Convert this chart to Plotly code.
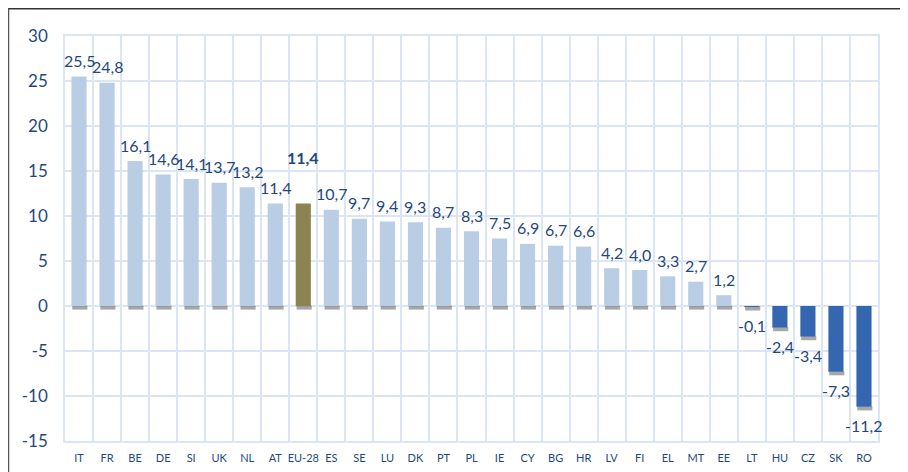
import plotly.graph_objects as go

countries = ["IT", "FR", "BE", "DE", "SI", "UK", "NL", "AT", "EU-28", "ES", "SE", "LU", "DK",
             "PT", "PL", "IE", "CY", "BG", "HR", "LV", "FI", "EL", "MT", "EE", "LT", "HU",
             "CZ", "SK", "RO"]
values = [25.5, 24.8, 16.1, 14.6, 14.1, 13.7, 13.2, 11.4, 11.4, 10.7, 9.7, 9.4, 9.3,
          8.7, 8.3, 7.5, 6.9, 6.7, 6.6, 4.2, 4.0, 3.3, 2.7, 1.2, -0.1, -2.4,
          -3.4, -7.3, -11.2]
highlight = "EU-28"
y_ticks = [-15, -10, -5, 0, 5, 10, 15, 20, 25, 30]
y_tick_labels = ["-15", "-10", "-5", "0", "5", "10", "15", "20", "25", "30"]

LIGHT = "#b9cde4"
OLIVE = "#8c8450"
DARK = "#3567b0"
TXT = "#1f497d"
GRID = "#dbe5f3"
FONT = "Lato"
BW = 0.54

def fmt(v):
    return f"{v:.1f}".replace(".", ",")

colors = []
for c, v in zip(countries, values):
    if c == highlight:
        colors.append(OLIVE)
    elif v < 0:
        colors.append(DARK)
    else:
        colors.append(LIGHT)

fig = go.Figure()
# soft drop shadow under each bar's lower end
fig.add_trace(go.Bar(
    x=countries, y=[-0.45] * len(values), base=[min(v, 0) + 0.05 for v in values],
    marker=dict(color="rgba(60,60,60,0.45)", line=dict(width=0)),
    width=BW, offset=-BW / 2 + 0.03, hoverinfo="skip",
))
fig.add_trace(go.Bar(
    x=countries, y=values,
    marker=dict(color=colors, line=dict(width=0)),
    width=BW, offset=-BW / 2,
    hoverinfo="x+y",
))

for c, v in zip(countries, values):
    if c == highlight:
        fig.add_annotation(x=c, y=v, text="<b>" + fmt(v) + "</b>", showarrow=False,
                           yanchor="middle", yshift=46, font=dict(family=FONT, size=16, color=TXT))
    elif v >= 0:
        fig.add_annotation(x=c, y=v, text=fmt(v), showarrow=False,
                           yanchor="middle", yshift=16, font=dict(family=FONT, size=16, color=TXT))
    else:
        fig.add_annotation(x=c, y=v, text=fmt(v), showarrow=False,
                           yanchor="middle", yshift=-19, font=dict(family=FONT, size=16, color=TXT))

fig.update_layout(
    width=900, height=464,
    margin=dict(l=57, r=30, t=28, b=31),
    paper_bgcolor="white", plot_bgcolor="white",
    showlegend=False, barmode="overlay",
    xaxis=dict(type="category", tickson="boundaries", showgrid=True, gridcolor=GRID, gridwidth=1.5,
               showline=True, linecolor=GRID, linewidth=1.5, mirror=True, ticks="",
               tickangle=0, automargin=False,
               tickfont=dict(family=FONT, size=11, color=TXT), ticklabelstandoff=6,
               range=[-0.5, len(countries) - 0.5]),
    yaxis=dict(range=[-15, 30], tickvals=y_ticks, ticktext=y_tick_labels, showgrid=True,
               gridcolor=GRID, gridwidth=1.5, automargin=False,
               zeroline=False, showline=True, linecolor=GRID, linewidth=1.5, mirror=True,
               tickfont=dict(family=FONT, size=17, color=TXT), ticks="", ticklabelstandoff=12),
    shapes=[
        dict(type="line", xref="paper", yref="paper", x0=-0.07, x1=1.1, y0=1.067, y1=1.067,
             line=dict(color="#333333", width=1.5)),
        dict(type="line", xref="paper", yref="paper", x0=-0.0695, x1=-0.0695, y0=1.067, y1=-0.1,
             line=dict(color="#555555", width=1.5)),
    ],
)

fig.write_html("out.html")
